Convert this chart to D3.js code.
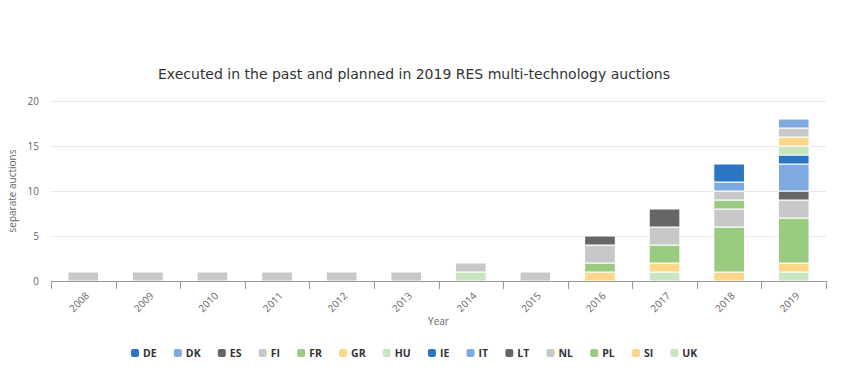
<!DOCTYPE html>
<html>
<head>
<meta charset="utf-8">
<script src="https://cdn.jsdelivr.net/npm/d3@7"></script>
<style>
  body { margin: 0; background: #fff; }
  svg { display: block; }
</style>
</head>
<body>
<svg id="chart" width="850" height="373"></svg>
<script>
const years = ["2008", "2009", "2010", "2011", "2012", "2013", "2014", "2015", "2016", "2017", "2018", "2019"];
const countries = ["DE", "DK", "ES", "FI", "FR", "GR", "HU", "IE", "IT", "LT", "NL", "PL", "SI", "UK"];
const colors = ["#2b75c2", "#7eaadf", "#666666", "#c8c8c8", "#99cc80", "#fcd689", "#c8e6bf",
                "#2b75c2", "#7eaadf", "#666666", "#c8c8c8", "#99cc80", "#fcd689", "#c8e6bf"];

// auctions per year, 2008..2019
const DE = [0, 0, 0, 0, 0, 0, 0, 0, 0, 0, 2, 0];
const DK = [0, 0, 0, 0, 0, 0, 0, 0, 0, 0, 1, 1];
const ES = [0, 0, 0, 0, 0, 0, 0, 0, 1, 2, 0, 0];
const FI = [0, 0, 0, 0, 0, 0, 0, 0, 0, 0, 1, 1];
const FR = [0, 0, 0, 0, 0, 0, 0, 0, 0, 0, 1, 0];
const GR = [0, 0, 0, 0, 0, 0, 0, 0, 0, 0, 0, 1];
const HU = [0, 0, 0, 0, 0, 0, 0, 0, 0, 0, 0, 1];
const IE = [0, 0, 0, 0, 0, 0, 0, 0, 0, 0, 0, 1];
const IT = [0, 0, 0, 0, 0, 0, 0, 0, 0, 0, 0, 3];
const LT = [0, 0, 0, 0, 0, 0, 0, 0, 0, 0, 0, 1];
const NL = [1, 1, 1, 1, 1, 1, 1, 1, 2, 2, 2, 2];
const PL = [0, 0, 0, 0, 0, 0, 0, 0, 1, 2, 5, 5];
const SI = [0, 0, 0, 0, 0, 0, 0, 0, 1, 1, 1, 1];
const UK = [0, 0, 0, 0, 0, 0, 1, 0, 0, 1, 0, 1];

const yTicks = [0, 5, 10, 15, 20];

const series = { DE, DK, ES, FI, FR, GR, HU, IE, IT, LT, NL, PL, SI, UK };
const colorOf = d3.scaleOrdinal().domain(countries).range(colors);

const rows = years.map((y, i) => {
    const r = { year: y };
    countries.forEach(c => { r[c] = series[c][i]; });
    return r;
});

const svg = d3.select("#chart");
const margin = { left: 51, right: 24, top: 101, bottom: 92 };
const width = 850 - margin.left - margin.right;
const height = 373 - margin.top - margin.bottom;

const x = d3.scaleBand().domain(years).range([0, width]).paddingInner(0.525).paddingOuter(0.2625);
const y = d3.scaleLinear().domain([0, 20]).range([height, 0]);

svg.append("text")
    .attr("x", 414)
    .attr("y", 79)
    .attr("text-anchor", "middle")
    .attr("font-family", "DejaVu Sans")
    .attr("font-size", "14px")
    .attr("fill", "#333")
    .text("Executed in the past and planned in 2019 RES multi-technology auctions");

const g = svg.append("g").attr("transform", `translate(${margin.left},${margin.top})`);

// grid
g.append("g")
    .selectAll("line")
    .data(yTicks.slice(1))
    .enter().append("line")
    .attr("x1", 0)
    .attr("x2", width)
    .attr("y1", d => y(d) + 0.5)
    .attr("y2", d => y(d) + 0.5)
    .attr("stroke", "#e6e6e6");

g.append("g")
    .selectAll("text")
    .data(yTicks)
    .enter().append("text")
    .attr("x", -12)
    .attr("y", d => y(d))
    .attr("dy", "0.35em")
    .attr("text-anchor", "end")
    .attr("font-family", "Open Sans")
    .attr("font-size", "10px")
    .attr("fill", "#666")
    .text(d => d);

svg.append("text")
    .attr("transform", `translate(16,${margin.top + height / 2}) rotate(-90)`)
    .attr("text-anchor", "middle")
    .attr("font-family", "Open Sans")
    .attr("font-size", "10px")
    .attr("fill", "#666")
    .text("separate auctions");

// stacked bars, first series on top
const stack = d3.stack().keys(countries.slice().reverse());
const layers = stack(rows);

g.append("g")
    .selectAll("g")
    .data(layers)
    .enter().append("g")
    .attr("fill", d => colorOf(d.key))
    .selectAll("rect")
    .data(d => d.filter(p => p[1] - p[0] > 0))
    .enter().append("rect")
    .attr("x", d => x(d.data.year))
    .attr("y", d => y(d[1]))
    .attr("width", x.bandwidth())
    .attr("height", d => y(d[0]) - y(d[1]))
    .attr("stroke", "#fff")
    .attr("stroke-width", 1);

// x axis
const xAxis = g.append("g").attr("transform", `translate(0,${height})`);
xAxis.append("line")
    .attr("x1", 0).attr("x2", width)
    .attr("y1", 0.5).attr("y2", 0.5)
    .attr("stroke", "#999");

const step = x.step();
xAxis.selectAll("line.tick")
    .data(d3.range(years.length + 1))
    .enter().append("line")
    .attr("class", "tick")
    .attr("x1", i => Math.round(x(years[0]) - x.paddingOuter() * step + i * step) + 0.5)
    .attr("x2", i => Math.round(x(years[0]) - x.paddingOuter() * step + i * step) + 0.5)
    .attr("y1", 0)
    .attr("y2", 8)
    .attr("stroke", "#999");

xAxis.selectAll("text")
    .data(years)
    .enter().append("text")
    .attr("transform", d => `translate(${x(d) + x.bandwidth() / 2 + 4},${13}) rotate(-45)`)
    .attr("text-anchor", "end")
    .attr("dy", "0.35em")
    .attr("font-family", "Open Sans")
    .attr("font-size", "10px")
    .attr("fill", "#666")
    .text(d => d);

svg.append("text")
    .attr("x", margin.left + width / 2)
    .attr("y", 325)
    .attr("text-anchor", "middle")
    .attr("font-family", "Open Sans")
    .attr("font-size", "10px")
    .attr("fill", "#666")
    .text("Year");

// legend
const legend = svg.append("g").attr("transform", "translate(131,353)");
let lx = 0;
countries.forEach(c => {
    const item = legend.append("g").attr("transform", `translate(${lx},0)`);
    item.append("rect")
        .attr("x", 0).attr("y", -4)
        .attr("width", 8).attr("height", 8)
        .attr("rx", 2)
        .attr("fill", colorOf(c));
    const t = item.append("text")
        .attr("x", 12)
        .attr("dy", "0.35em")
        .attr("font-family", "Open Sans")
        .attr("font-weight", "bold")
        .attr("font-size", "10.5px")
        .attr("fill", "#333")
        .text(c);
    lx += 12 + t.node().getComputedTextLength() + 17.2;
});
</script>
</body>
</html>
